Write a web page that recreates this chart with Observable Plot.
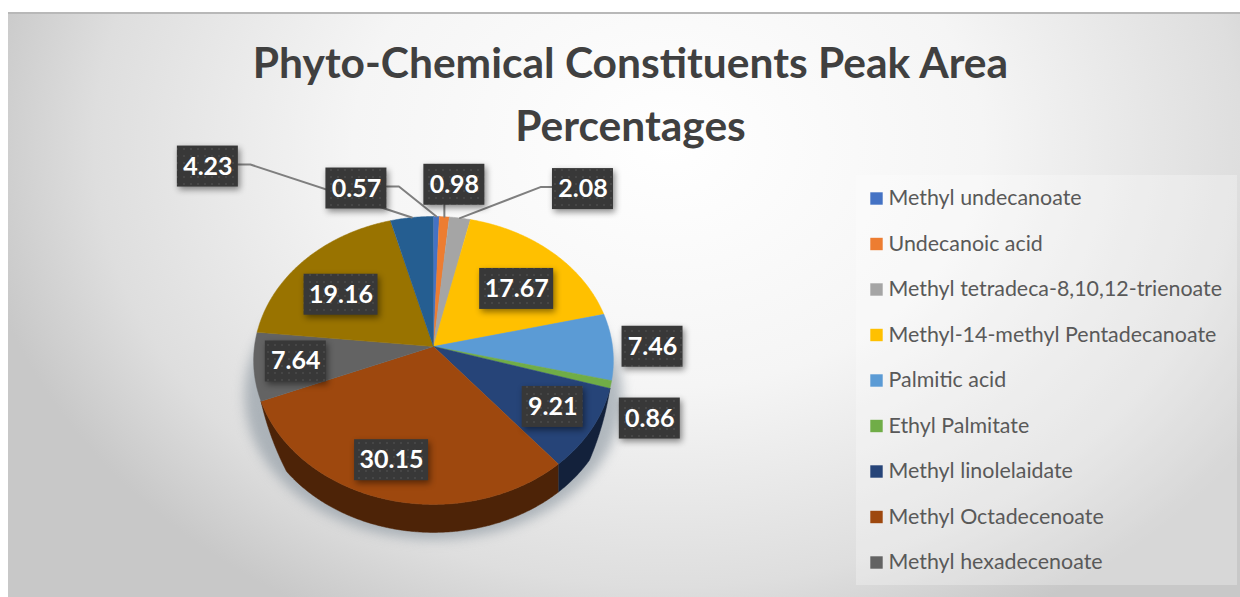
<!DOCTYPE html>
<html>
<head>
<meta charset="utf-8">
<title>Phyto-Chemical Constituents Peak Area Percentages</title>
<script src="https://cdn.jsdelivr.net/npm/d3@7"></script>
<script src="https://cdn.jsdelivr.net/npm/@observablehq/plot@0.6"></script>
<style>
  html, body { margin: 0; padding: 0; background: #fff; }
  #frame { position: relative; width: 1240px; height: 597px; overflow: hidden; }
  #panel {
    position: absolute; left: 8px; top: 12px; right: 0; bottom: 0;
    border-top: 2px solid #b8b8b8; box-sizing: border-box;
    background: radial-gradient(ellipse 700px 540px at 660px 130px, #ffffff 0%, #f5f5f5 45%, #dedede 82%, #c8c8c8 100%);
  }
  #frame svg { position: absolute; left: 0; top: 0; }
</style>
</head>
<body>
<div id="frame"><div id="panel"></div></div>
<script>
// Peak area percentages, clockwise from twelve o'clock
const values = [0.57, 0.98, 2.08, 17.67, 7.46, 0.86, 9.21, 30.15, 7.64, 19.16, 4.23];
const colors = ["#4472C4", "#ED7D31", "#A5A5A5", "#FFC000", "#5B9BD5", "#70AD47",
                "#264478", "#9E480E", "#636363", "#997300", "#255E91"];
const legendNames = [
  "Methyl undecanoate", "Undecanoic acid", "Methyl tetradeca-8,10,12-trienoate",
  "Methyl-14-methyl Pentadecanoate", "Palmitic acid", "Ethyl Palmitate",
  "Methyl linolelaidate", "Methyl Octadecenoate", "Methyl hexadecenoate"
];
const titleLines = ["Phyto-Chemical Constituents Peak Area", "Percentages"];

// Label offsets from each slice's rim midpoint
const labelShift = [[-80, -28], [10, -32], [123, -29], [-35, 37], [40, 0], [39, 34],
                    [-39, -22], [6, -39], [42, -5], [36, 35], [-204, -51]];

// Slices whose outer wall faces the viewer
const walledSlices = [6, 7];

// Tilted disc seen in perspective
const pie = {cx: 433, cy: 346, a: 179, b: 142.6, k: 0.097, depth: 28, taper: 18};
const rim = (deg) => {
  const t = deg * Math.PI / 180, w = 1 + pie.k * Math.cos(t);
  return [pie.cx + pie.a * Math.sin(t) / w, pie.cy - pie.b * Math.cos(t) / w];
};

const total = d3.sum(values);
let running = 0;
const slices = values.map((value, i) => {
  const start = running / total * 360;
  running += value;
  const end = running / total * 360;
  return {i, value, start, end, mid: (start + end) / 2, color: colors[i]};
});

const arcAngles = (s) => {
  const n = Math.max(2, Math.ceil(s.end - s.start) * 2);
  return d3.range(n + 1).map((j) => s.start + (s.end - s.start) * j / n);
};

const topFace = slices.flatMap((s) =>
  [[pie.cx, pie.cy], ...arcAngles(s).map(rim)].map(([x, y]) => ({x, y, i: s.i, color: s.color})));

// The wall narrows to nothing where it turns out of sight at either end
const walls = slices.filter((s) => walledSlices.includes(s.i));
const wallStart = d3.min(walls, (s) => s.start), wallEnd = d3.max(walls, (s) => s.end);
const wallDepth = (deg) => pie.depth * Math.max(0, Math.min(1, (deg - wallStart) / pie.taper, (wallEnd - deg) / pie.taper));
const sideFace = walls.flatMap((s) => {
  const angles = arcAngles(s);
  const low = angles.map((deg) => {
    const [x, y] = rim(deg);
    return [x, y + wallDepth(deg)];
  }).reverse();
  const shade = d3.color(s.color).darker(2).formatHex();
  return [...angles.map(rim), ...low].map(([x, y]) => ({x, y, i: s.i, color: shade}));
});
const shadow = d3.range(0, 361, 3).map((deg) => {
  const [x, y] = rim(deg);
  return {x: pie.cx + (x - pie.cx) * 1.05, y: y + pie.depth + 7};
});

const labels = slices.map((s) => {
  const [rx, ry] = rim(s.mid);
  const [dx, dy] = labelShift[s.i];
  const text = s.value.toFixed(2);
  return {text, rx, ry, x: rx + dx, y: ry + dy, w: text.length > 4 ? 74 : 61, h: 41};
});

// Leader lines: rim point to elbow to label edge
const leaderPath = (i, side) => {
  const l = labels[i], edge = l.x + side * l.w / 2, y = l.y - 2;
  return [[l.rx, l.ry], [edge + side * 12, y], [edge, y]].map(([x, yy]) => ({x, y: yy, i}));
};
const leaders = [
  ...leaderPath(10, 1), ...leaderPath(0, 1), ...leaderPath(2, -1),
  {x: labels[1].rx, y: labels[1].ry, i: 1}, {x: labels[1].rx, y: labels[1].y, i: 1}
];

const legend = legendNames.map((name, i) => ({name, i, color: colors[i], y: 198 + i * 45.5}));

const grain = () => {
  const defs = d3.create("svg:defs");
  const p = defs.append("pattern").attr("id", "labelGrain").attr("width", 7).attr("height", 7)
    .attr("patternUnits", "userSpaceOnUse");
  p.append("rect").attr("width", 7).attr("height", 7).attr("fill", "#383838");
  p.append("circle").attr("cx", 2).attr("cy", 2).attr("r", 0.9).attr("fill", "#4c4c4c");
  return defs.node();
};

const font = "Lato, 'Open Sans', sans-serif";
const chart = Plot.plot({
  width: 1240, height: 597, margin: 0,
  x: {domain: [0, 1240], range: [0, 1240], axis: null},
  y: {domain: [0, 597], range: [0, 597], axis: null},
  style: {background: "transparent"},
  marks: [
    grain,
    // legend panel
    Plot.rect([{x1: 856, x2: 1237, y1: 175, y2: 585}], {
      x1: "x1", x2: "x2", y1: "y1", y2: "y2", fill: "#fff", fillOpacity: 0.28
    }),
    // soft shadow under the disc
    Plot.line(shadow, {x: "x", y: "y", fill: "#8f9aa3", stroke: "none", fillOpacity: 0.65, imageFilter: "blur(6px)"}),
    Plot.line(sideFace, {x: "x", y: "y", z: "i", fill: "color", stroke: "color", strokeWidth: 0.5}),
    Plot.line(topFace, {x: "x", y: "y", z: "i", fill: "color", stroke: "color", strokeWidth: 0.5}),
    Plot.line(leaders, {x: "x", y: "y", z: "i", stroke: "#7f7f7f", strokeWidth: 2, curve: "linear"}),
    // value labels
    Plot.rect(labels, {
      x1: (d) => d.x - d.w / 2, x2: (d) => d.x + d.w / 2,
      y1: (d) => d.y - d.h / 2, y2: (d) => d.y + d.h / 2,
      fill: "url(#labelGrain)", imageFilter: "drop-shadow(2px 3px 3px rgba(0,0,0,0.45))"
    }),
    Plot.text(labels, {
      x: "x", y: "y", text: "text", fill: "#fff", fontFamily: font, fontWeight: 700, fontSize: 25
    }),
    // title
    Plot.text(titleLines, {
      x: () => 630, y: (d, i) => 64 + i * 63, text: (d) => d,
      fill: "#404040", fontFamily: font, fontWeight: 700, fontSize: 42.5
    }),
    // legend
    Plot.dot(legend, {x: () => 876, y: "y", symbol: "square", r: 7, fill: "color", stroke: "none"}),
    Plot.text(legend, {
      x: () => 888, y: "y", text: "name", textAnchor: "start",
      fill: "#595959", fontFamily: font, fontSize: 21.4
    })
  ]
});
document.getElementById("frame").appendChild(chart);
</script>
</body>
</html>
